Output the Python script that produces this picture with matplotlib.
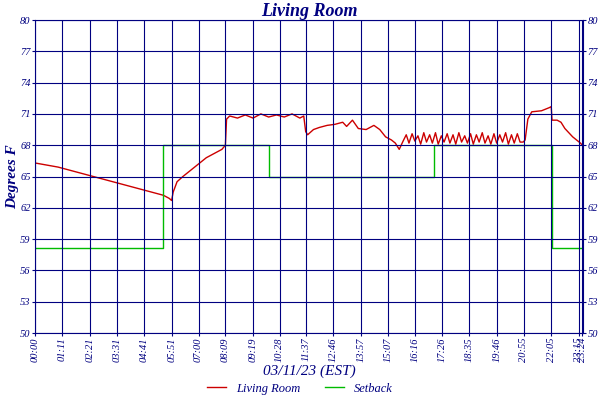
import matplotlib
matplotlib.use("Agg")
import matplotlib.pyplot as plt

# Living room temperature: minutes since midnight, degrees F
room_t = [0, 60, 120, 180, 240, 300, 330, 345, 351, 355, 365, 380, 400, 420, 440, 460, 480, 489,
          492, 500, 520, 540, 560, 580, 600, 620, 640, 660, 680, 690, 695, 700, 715, 730, 750, 770,
          790, 800, 815, 830, 850, 870, 885, 900, 915, 925, 935, 945,
          953, 960, 968, 975, 983, 990, 998, 1005, 1013, 1020, 1028, 1035, 1043, 1050, 1058, 1065,
          1073, 1080, 1088, 1095, 1103, 1110, 1118, 1125, 1133, 1140, 1148, 1155, 1163, 1170, 1178,
          1185, 1193, 1200, 1208, 1215, 1223, 1230, 1238, 1245, 1253,
          1258, 1265, 1275, 1300, 1320, 1325, 1327, 1340, 1350, 1360, 1380, 1400, 1407]
room_v = [66.3, 65.9, 65.3, 64.7, 64.1, 63.5, 63.2, 62.9, 62.7, 63.5, 64.5, 65.0, 65.6, 66.2, 66.8, 67.2, 67.6, 68.0,
          70.5, 70.8, 70.6, 70.9, 70.6, 71.0, 70.7, 70.9, 70.7, 71.0, 70.6, 70.8, 69.3, 69.0, 69.5, 69.7, 69.9, 70.0,
          70.2, 69.8, 70.4, 69.6, 69.5, 69.9, 69.5, 68.8, 68.5, 68.2, 67.6, 68.4,
          69.0, 68.2, 69.1, 68.4, 68.9, 68.1, 69.2, 68.3, 69.0, 68.2, 69.2, 68.1, 68.9, 68.3, 69.1, 68.2,
          69.0, 68.1, 69.2, 68.3, 68.9, 68.2, 69.1, 68.1, 69.0, 68.3, 69.2, 68.2, 68.9, 68.1, 69.1,
          68.2, 69.0, 68.3, 69.2, 68.1, 69.0, 68.2, 69.1, 68.3, 68.3,
          68.5, 70.5, 71.2, 71.3, 71.6, 71.7, 70.4, 70.4, 70.2, 69.6, 68.8, 68.2, 67.9]

# Setback schedule (step, post)
setback_t = [0, 329, 600, 1023, 1326, 1407]
setback_v = [58.1, 68, 65, 68, 58.1, 58.1]

tick_min = [0, 71, 141, 211, 281, 351, 420, 489, 559, 628, 697, 766, 837, 907, 976, 1046, 1115, 1186, 1255, 1325, 1395, 1404]
tick_lbl = ["00:00", "01:11", "02:21", "03:31", "04:41", "05:51", "07:00", "08:09", "09:19", "10:28", "11:37",
            "12:46", "13:57", "15:07", "16:16", "17:26", "18:35", "19:46", "20:55", "22:05", "23:15", "23:24"]
y_ticks = [50, 53, 56, 59, 62, 65, 68, 71, 74, 77, 80]

navy = "#000080"
font = "Liberation Serif"
fig = plt.figure(figsize=(6, 4), dpi=100)
ax = fig.add_axes([0.058, 0.1675, 0.914, 0.7825])
ax.plot(room_t, room_v, color="#cc0000", lw=1, label="Living Room", zorder=2)
ax.step(setback_t, setback_v, where="post", color="#00bb00", lw=1, label="Setback", zorder=2)
ax.set_xlim(0, 1407)
ax.set_ylim(50, 80)
ax.set_xticks(tick_min)
ax.set_xticklabels(tick_lbl, rotation=90, fontsize=7.5, color=navy, style="italic", family=font)
ax.set_yticks(y_ticks)
ax.set_yticklabels([str(v) for v in y_ticks], fontsize=7.5, color=navy, style="italic", family=font)
ax.tick_params(axis="both", length=2, pad=1, colors=navy, labelright=True, right=True)
ax.grid(True, color=navy, lw=0.8, zorder=3)
ax.set_axisbelow(False)
for s in ax.spines.values():
    s.set_color(navy)
ax.set_title("Living Room", fontsize=13, color=navy, style="italic", weight="bold", family=font, pad=3)
ax.set_ylabel("Degrees F", fontsize=11, color=navy, style="italic", weight="bold", family=font, labelpad=1)
ax.set_xlabel("03/11/23 (EST)", fontsize=11, color=navy, style="italic", family=font, labelpad=2)
leg = fig.legend(loc="lower center", ncol=2, frameon=False, bbox_to_anchor=(0.5, -0.015),
                 prop={"family": font, "style": "italic", "size": 9}, handlelength=1.5)
for t in leg.get_texts():
    t.set_color(navy)
fig.savefig("out.png", dpi=100)
